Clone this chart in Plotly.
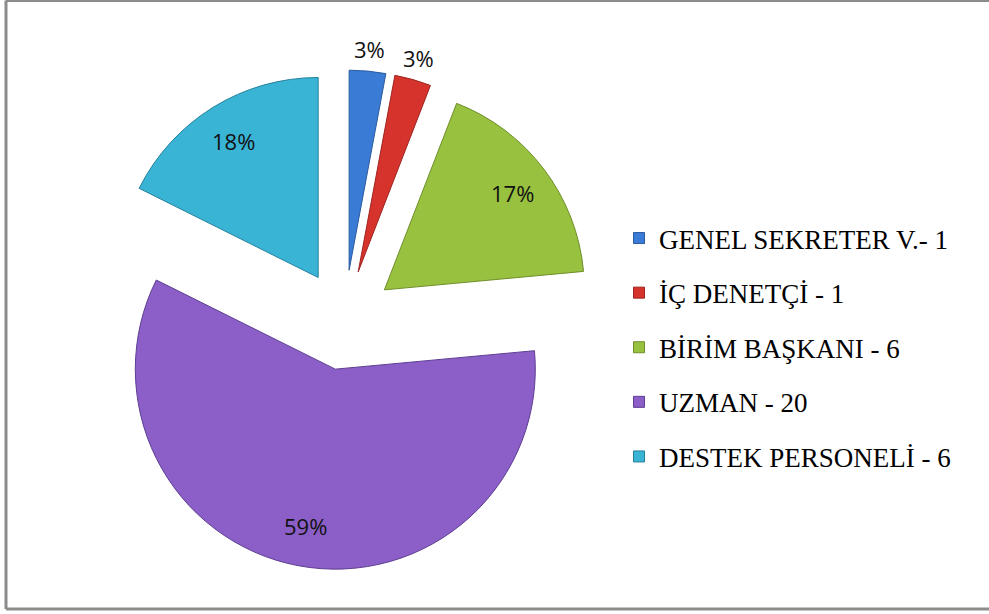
import math
import plotly.graph_objects as go

categories = ["GENEL SEKRETER V.- 1", "İÇ DENETÇİ - 1", "BİRİM BAŞKANI - 6", "UZMAN - 20", "DESTEK PERSONELİ - 6"]
values = [1, 1, 6, 20, 6]
pct_labels = ["3%", "3%", "17%", "59%", "18%"]
label_inside = [False, False, True, True, True]
colors = ["#3A7BD5", "#D6332D", "#98C140", "#8B5FC7", "#3AB4D5"]
edge_colors = ["#2A5A9E", "#9E2420", "#6E8E2A", "#5E3E92", "#22809C"]

W, H = 989, 614
cx, cy, R = 344.5, 320, 250  # pixel centre and outer extent (incl. pull)
PULL = 0.25
r = R / (1 + PULL)

fig = go.Figure()
fig.add_trace(go.Pie(
    labels=categories, values=values,
    textinfo="none", sort=False, direction="clockwise", rotation=0,
    pull=[PULL] * len(values),
    marker=dict(colors=colors, line=dict(color=edge_colors, width=1)),
    domain=dict(x=[(cx - R) / W, (cx + R) / W], y=[1 - (cy + R) / H, 1 - (cy - R) / H]),
    showlegend=False, hoverinfo="label+percent", automargin=False,
))

# percentage labels placed along each slice's mid-angle (derived from the data)
total = sum(values)
cum = 0
annotations = []
for v, t, inside in zip(values, pct_labels, label_inside):
    mid = (cum + v / 2) / total * 2 * math.pi
    cum += v
    dx, dy = math.sin(mid), -math.cos(mid)
    k = 0.8 if inside else 1.11
    px = cx + (PULL * r + k * r) * dx
    py = cy + (PULL * r + k * r) * dy
    annotations.append(dict(x=px / W, y=1 - py / H, xref="paper", yref="paper",
                            text=t, showarrow=False, xanchor="center", yanchor="middle",
                            font=dict(family="Open Sans", size=22, color="#111111")))

for i, (c, col) in enumerate(zip(categories, colors)):
    fig.add_trace(go.Scatter(
        x=[None], y=[None], mode="markers", name=c, legendgroup=str(i),
        marker=dict(symbol="square", size=11, color=col, line=dict(color=edge_colors[i], width=1)),
    ))

border = dict(color="#8C8C8C", width=3)
x_left, y_top, y_bot = 6 / W, 1 - 0.5 / H, 1 - 609 / H
fig.update_layout(
    width=W, height=H, margin=dict(l=0, r=0, t=0, b=0, autoexpand=False),
    paper_bgcolor="white", plot_bgcolor="white",
    xaxis=dict(visible=False), yaxis=dict(visible=False),
    legend=dict(x=619 / W, y=1 - 214 / H, xanchor="left", yanchor="top",
                font=dict(family="Liberation Serif", size=27, color="#000000"),
                tracegroupgap=16.5, itemwidth=30, bgcolor="rgba(0,0,0,0)"),
    annotations=annotations,
    shapes=[
        dict(type="line", xref="paper", yref="paper", x0=x_left, x1=1, y0=y_top, y1=y_top, line=border),
        dict(type="line", xref="paper", yref="paper", x0=x_left, x1=1, y0=y_bot, y1=y_bot, line=border),
        dict(type="line", xref="paper", yref="paper", x0=x_left, x1=x_left, y0=y_bot, y1=y_top, line=border),
    ],
)

fig.write_html("out.html", config={"displayModeBar": False},
               post_script="document.body.style.margin='0';")
